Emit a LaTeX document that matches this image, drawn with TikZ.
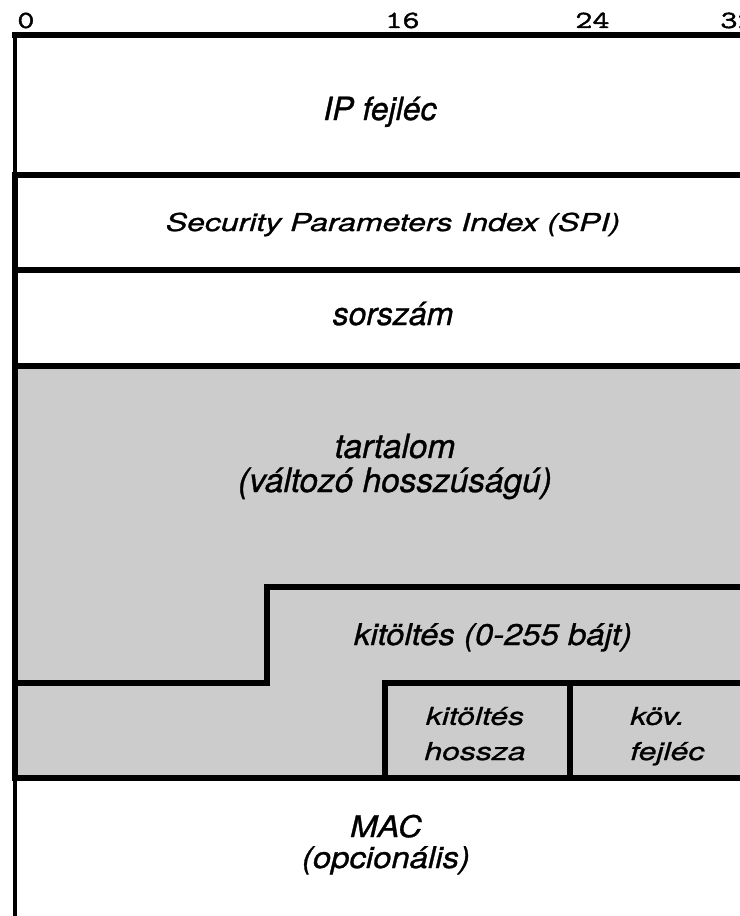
\documentclass[tikz,border=0pt]{standalone}
\usepackage{fontspec}
\usepackage{xcolor}
\usepackage{tikz}
\usetikzlibrary{positioning}
\newfontfamily\pktfont{TeX Gyre Heros}[FakeBold=1]
\newfontfamily\pktmidfont{TeX Gyre Heros}[FakeStretch=1.1, FakeBold=1]
\newfontfamily\pktwidefont{TeX Gyre Heros}[FakeStretch=1.3, FakeBold=1]
\newfontfamily\bitfont{Latin Modern Mono}[FakeStretch=1.35, FakeBold=2]
\definecolor{pktGray}{HTML}{CCCCCC}
\definecolor{pktInk}{HTML}{000000}
\tikzset{
  thickrule/.style={draw=pktInk, line width=3pt},
  thinrule/.style={draw=pktInk, line width=2pt},
  fieldlabel/.style={align=center, anchor=base, text=pktInk, inner sep=0pt},
  bigfield/.style={fieldlabel, font=\pktfont\itshape\fontsize{18.2}{20}\selectfont},
  midfield/.style={fieldlabel, font=\pktmidfont\itshape\fontsize{17}{17.6}\selectfont},
  widefield/.style={fieldlabel, font=\pktwidefont\itshape\fontsize{14}{20}\selectfont},
  bitlabel/.style={font=\bitfont\fontsize{14}{15}\selectfont, anchor=base west, text=pktInk, inner sep=0pt},
}

\begin{document}
\begin{tikzpicture}[x=0.02cm, y=-0.02cm]
  \useasboundingbox (0,0) rectangle (740,916);
  \clip (0,0) rectangle (740,916);
  % shaded ESP body
  \fill[pktGray] (15,366) rectangle (760,778);
  % bit positions
  \node[bitlabel] (bit0) at (17,28) {0};
  \node[bitlabel] (bit16) at (385,28) {16};
  \node[bitlabel] (bit24) at (575,28) {24};
  \node[bitlabel] (bit32) at (720,28) {32};
  % outer frame and rows
  \draw[thinrule] (15,35) -- (15,175);
  \draw[thickrule] (15,175) -- (15,778);
  \draw[thinrule] (15,778) -- (15,930);
  \draw[thickrule] (12,35) -- (760,35);
  \draw[thickrule] (12,175) -- (760,175);
  \draw[thickrule] (12,270) -- (760,270);
  \draw[thickrule] (12,366) -- (760,366);
  \draw[thickrule] (12,778) -- (760,778);
  % padding step and trailer fields
  \draw[thickrule] (15,683) -- (267,683) -- (267,587) -- (760,587);
  \draw[thickrule] (385,778) -- (385,683) -- (760,683);
  \draw[thickrule] (570,683) -- (570,778);
  % field texts (base = last line)
  \node[bigfield] (ipHdr) at (380,120) {IP fejléc};
  \node[widefield] (spi) at (393,231) {Security Parameters Index (SPI)};
  \node[bigfield] (seqNum) at (393,325) {sorszám};
  \node[bigfield, font=\pktfont\itshape\fontsize{19}{19.4}\selectfont] (payload) at (395,492) {tartalom\\(változó hosszúságú)};
  \node[midfield] (padding) at (493,645) {kitöltés (0-255 bájt)};
  \node[widefield] (padLen) at (475,760) {kitöltés\\hossza};
  \node[widefield, align=left, anchor=base west] (nextHdr) at (630,760) {köv.\\fejléc};
  \node[midfield] (mac) at (386,868) {MAC\\(opcionális)};
\end{tikzpicture}
\end{document}
